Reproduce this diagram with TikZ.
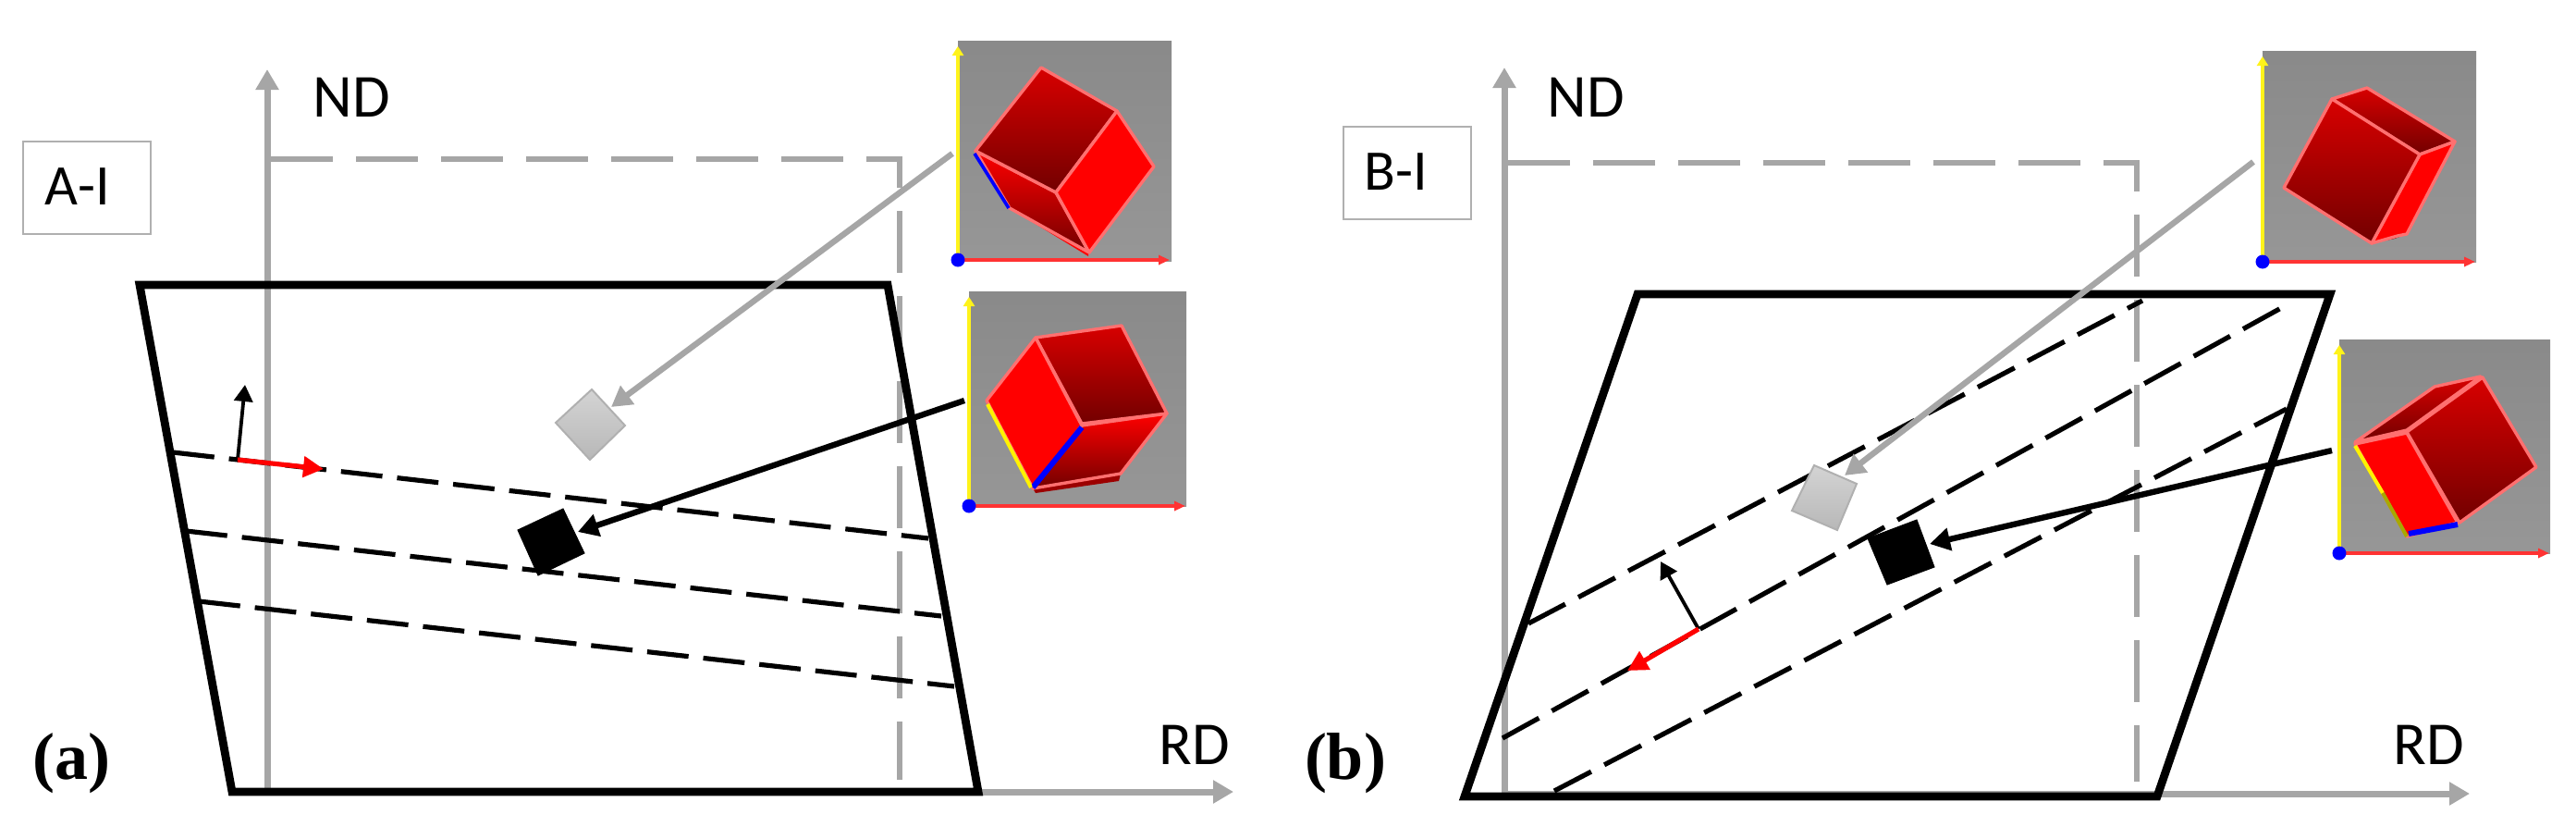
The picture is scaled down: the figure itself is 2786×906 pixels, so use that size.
\documentclass[tikz,border=0pt]{standalone}
\usepackage{fontspec}
\setmainfont{Carlito}
\newfontfamily\serifbold[BoldFont={Liberation Serif Bold}]{Liberation Serif}
\usetikzlibrary{arrows.meta}
\definecolor{axisgrey}{HTML}{A6A6A6}
\definecolor{boxgrey}{HTML}{B0B0B0}
\definecolor{facedge}{HTML}{FF7070}
\definecolor{darkA}{HTML}{D80000}
\definecolor{darkB}{HTML}{720000}
\definecolor{olive}{HTML}{A8A800}
\tikzset{
  outline/.style={draw=black,line width=4.4pt,line join=miter,fill=none},
  slip/.style={draw=black,line width=2.6pt,dash pattern=on 22.5pt off 8pt},
  axisline/.style={draw=axisgrey,line width=3.5pt,-{Triangle[length=11pt,width=12pt]}},
  guide/.style={draw=axisgrey,line width=3.4pt,dash pattern=on 33.5pt off 12.5pt},
  pointer/.style={line width=3.2pt,-{Triangle[length=11pt,width=12pt]}},
  normalarrow/.style={draw=black,line width=1.9pt,-{Triangle[length=9pt,width=10pt]}},
  dirarrow/.style={draw=red,line width=2.6pt,-{Triangle[length=11pt,width=11pt]}},
  tag/.style={draw=boxgrey,line width=1pt,minimum width=69pt,minimum height=50pt,inner sep=0pt,font=\fontsize{31}{31}\selectfont},
  axislabel/.style={inner sep=0pt,font=\fontsize{33}{33}\selectfont},
  panellabel/.style={inner sep=0pt,font=\serifbold\bfseries\fontsize{36}{36}\selectfont},
  backdrop/.style={bottom color=black!41,top color=black!46,draw=none},
  flat/.style={fill=red,draw=facedge,line width=1.7pt,line join=round},
  deep/.style={top color=darkA,bottom color=darkB,draw=facedge,line width=1.7pt,line join=round},
  mid/.style={top color=red,bottom color=darkB,draw=facedge,line width=1.7pt,line join=round},
  yaxis/.style={draw=yellow!90!white,line width=1.8pt,-{Triangle[length=5pt,width=6pt]}},
  xaxis/.style={draw=red!80!white,line width=1.8pt,-{Triangle[length=6pt,width=5pt]}},
  originpt/.style={circle,fill=blue,draw=none,minimum size=7.5pt,inner sep=0pt},
  greygrain/.style={top color=black!17,bottom color=black!28,draw=boxgrey,line width=1pt},
  blackgrain/.style={fill=black,draw=black,line width=.5pt},
}
\begin{document}
\begin{tikzpicture}[x=0.5pt,y=-0.5pt]
\useasboundingbox (0,0) rectangle (2786,906);
% ---------- panel a ----------
\coordinate (aO) at (289,856);
\coordinate (aY) at (289,75);
\coordinate (aX) at (1334,856);
\coordinate (aGa) at (293,172);
\coordinate (aGb) at (973,172);
\coordinate (aGc) at (973,843);
\draw[axisline] (aO) -- (aY);
\draw[axisline] (aO) -- (aX);
\draw[guide] (aGa) -- (aGb) -- (aGc);
\draw[outline] (151,308) -- (960,308) -- (1058,856) -- (251,856) -- cycle;
\coordinate (a1s) at (187,489); \coordinate (a1e) at (1004,582);
\coordinate (a2s) at (201,574); \coordinate (a2e) at (1018,666);
\coordinate (a3s) at (215,650); \coordinate (a3e) at (1032,742);
\draw[slip] (a1s) -- (a1e);
\draw[slip] (a2s) -- (a2e);
\draw[slip] (a3s) -- (a3e);
\coordinate (aB) at (257,497);
\coordinate (aN) at (265,416);
\coordinate (aR) at (350,507);
\draw[normalarrow] (aB) -- (aN);
\draw[dirarrow] (aB) -- (aR);
\path[greygrain] (640,421) -- (676,460) -- (638,497) -- (601,457) -- cycle;
\path[blackgrain] (609,550) -- (632,598) -- (582,622) -- (560,573) -- cycle;
\coordinate (aPg) at (1030,166); \coordinate (aTg) at (661,440);
\coordinate (aPk) at (1043,433); \coordinate (aTk) at (625,575);
\draw[pointer,draw=axisgrey] (aPg) -- (aTg);
\draw[pointer,draw=black] (aPk) -- (aTk);
\node[tag] (aTag) at (94,203) {\raisebox{1.5pt}{A-I}\kern10pt};
\node[axislabel] (aND) at (380,105) {ND};
\node[axislabel] (aRD) at (1292,805) {RD};
\node[panellabel] (aLab) at (77,825) {(a)};
% inset a1
\path[backdrop] (1036,44) rectangle (1267,282);
\path[fill=red] (1092,225) -- (1177,277) -- (1178,268) -- (1100,225) -- cycle;
\path[mid] (1055,163) -- (1142,208) -- (1178,273) -- (1092,225) -- cycle;
\path[deep] (1126,73) -- (1208,120) -- (1142,208) -- (1055,163) -- cycle;
\path[flat] (1208,120) -- (1248,180) -- (1178,273) -- (1142,208) -- cycle;
\draw[blue,line width=1.8pt] (1054,166) -- (1091,225);
\draw[yaxis] (1036,281) -- (1036,50);
\draw[xaxis] (1036,281) -- (1265,281);
\node[originpt] (a1o) at (1036,281) {};
% inset a2
\path[backdrop] (1048,315) rectangle (1283,547);
\path[fill=darkB!70!red] (1117,528) -- (1212,512) -- (1210,520) -- (1120,533) -- cycle;
\path[mid] (1170,460) -- (1262,447) -- (1212,512) -- (1117,528) -- cycle;
\path[deep] (1120,365) -- (1213,352) -- (1262,447) -- (1170,458) -- cycle;
\path[flat] (1120,365) -- (1170,460) -- (1117,528) -- (1067,433) -- cycle;
\draw[blue,line width=3pt] (1170,462) -- (1117,527);
\draw[yellow,line width=2pt] (1068,437) -- (1115,527);
\draw[yaxis] (1048,547) -- (1048,321);
\draw[xaxis] (1048,547) -- (1282,547);
\node[originpt] (a2o) at (1048,547) {};
% ---------- panel b ----------
\coordinate (bO) at (1627,858);
\coordinate (bY) at (1627,73);
\coordinate (bX) at (2671,858);
\coordinate (bGa) at (1631,176);
\coordinate (bGb) at (2311,176);
\coordinate (bGc) at (2311,845);
\draw[axisline] (bO) -- (bY);
\draw[axisline] (bO) -- (bX);
\draw[guide] (bGa) -- (bGb) -- (bGc);
\draw[outline] (1771,318) -- (2520,318) -- (2333,861) -- (1584,861) -- cycle;
\coordinate (b1s) at (1653,674); \coordinate (b1e) at (2317,325);
\coordinate (b2s) at (1625,798); \coordinate (b2e) at (2467,333);
\coordinate (b3s) at (1681,855); \coordinate (b3e) at (2473,442);
\draw[slip] (b1s) -- (b1e);
\draw[slip] (b2s) -- (b2e);
\draw[slip] (b3s) -- (b3e);
\coordinate (bB) at (1837,680);
\coordinate (bN) at (1796,607);
\coordinate (bR) at (1760,725);
\draw[normalarrow] (bB) -- (bN);
\draw[dirarrow] (bB) -- (bR);
\path[greygrain] (1962,503) -- (2008,523) -- (1987,573) -- (1938,552) -- cycle;
\path[blackgrain] (2020,582) -- (2073,562) -- (2092,613) -- (2041,632) -- cycle;
\coordinate (bPg) at (2437,175); \coordinate (bTg) at (1995,514);
\coordinate (bPk) at (2522,487); \coordinate (bTk) at (2087,588);
\draw[pointer,draw=axisgrey] (bPg) -- (bTg);
\draw[pointer,draw=black] (bPk) -- (bTk);
\node[tag] (bTag) at (1522,187) {\raisebox{1.5pt}{B-I}\kern12pt};
\node[axislabel] (bND) at (1715,105) {ND};
\node[axislabel] (bRD) at (2627,805) {RD};
\node[panellabel] (bLab) at (1455,825) {(b)};
% inset b1
\path[backdrop] (2447,55) rectangle (2678,283);
\path[fill=darkB] (2565,263) -- (2593,255) -- (2603,253) -- (2590,258) -- cycle;
\path[deep] (2522,107) -- (2560,95) -- (2655,153) -- (2617,167) -- cycle;
\path[flat] (2617,167) -- (2655,153) -- (2603,253) -- (2593,255) -- (2565,263) -- cycle;
\path[deep] (2522,107) -- (2617,167) -- (2565,263) -- (2470,203) -- cycle;
\draw[yaxis] (2447,283) -- (2447,61);
\draw[xaxis] (2447,283) -- (2677,283);
\node[originpt] (b1o) at (2447,283) {};
% inset b2
\path[backdrop] (2530,367) rectangle (2758,598);
\path[deep] (2547,478) -- (2633,418) -- (2683,407) -- (2603,465) -- cycle;
\path[deep] (2603,467) -- (2685,408) -- (2743,505) -- (2660,565) -- cycle;
\path[flat] (2547,480) -- (2603,468) -- (2658,565) -- (2603,580) -- cycle;
\draw[blue,line width=3pt] (2605,577) -- (2658,567);
\draw[yellow,line width=2pt] (2547,482) -- (2577,533);
\draw[olive,line width=2pt] (2577,533) -- (2603,580);
\draw[yaxis] (2530,598) -- (2530,373);
\draw[xaxis] (2530,598) -- (2757,598);
\node[originpt] (b2o) at (2530,598) {};
\end{tikzpicture}
\end{document}
